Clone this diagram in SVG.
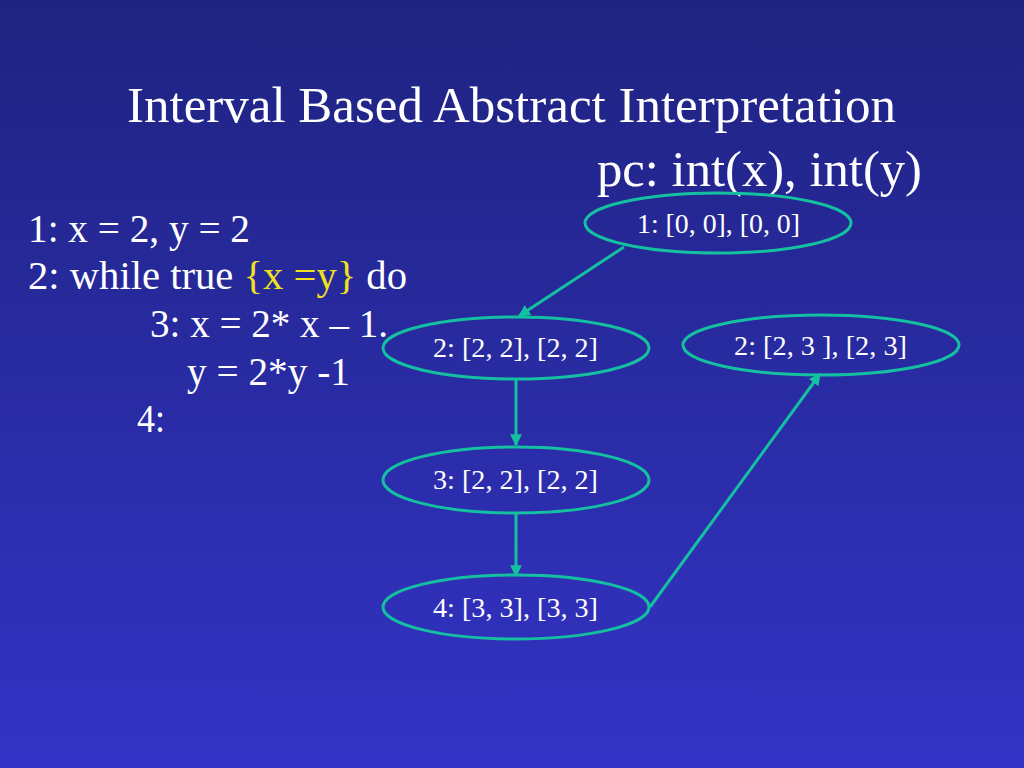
<svg xmlns="http://www.w3.org/2000/svg" width="1024" height="768" viewBox="0 0 1024 768">
<defs>
<linearGradient id="bg" x1="0" y1="0" x2="0" y2="1">
<stop offset="0" stop-color="#1f2380"/>
<stop offset="1" stop-color="#3333c6"/>
</linearGradient>
<marker id="arr" viewBox="0 0 10 10" refX="9" refY="5" markerWidth="4" markerHeight="4" orient="auto" markerUnits="strokeWidth">
<path d="M0,0 L10,5 L0,10 z" fill="#14c0a0"/>
</marker>
<style>
.t{font-family:"Liberation Serif","Times New Roman",serif;fill:#ffffff}
.title{font-size:51px}
.code{font-size:40px}
.lbl{font-size:28px}
.node ellipse{fill:none;stroke:#14c0a0;stroke-width:3}
.edge{stroke:#14c0a0;stroke-width:3;fill:none;marker-end:url(#arr)}
</style>
</defs>
<rect width="1024" height="768" fill="url(#bg)"/>
<text class="t title" x="127" y="122" textLength="769" lengthAdjust="spacingAndGlyphs">Interval Based Abstract Interpretation</text>
<text class="t title" x="597" y="186" textLength="325" lengthAdjust="spacingAndGlyphs">pc: int(x), int(y)</text>
<g id="code">
<text class="t code" x="28" y="242" textLength="222" lengthAdjust="spacingAndGlyphs">1: x = 2, y = 2</text>
<text class="t code" x="28" y="289" textLength="379" lengthAdjust="spacingAndGlyphs">2: while true  <tspan fill="#f0e020">{x =y}</tspan> do</text>
<text class="t code" x="150" y="337" textLength="238" lengthAdjust="spacingAndGlyphs">3: x = 2* x – 1.</text>
<text class="t code" x="187" y="385" textLength="163" lengthAdjust="spacingAndGlyphs">y = 2*y -1</text>
<text class="t code" x="137" y="432" textLength="28" lengthAdjust="spacingAndGlyphs">4:</text>
</g>
<g id="connectors">
<line class="edge" x1="624" y1="247" x2="519" y2="316"/>
<line class="edge" x1="516" y1="380" x2="516" y2="445"/>
<line class="edge" x1="516" y1="513" x2="516" y2="576"/>
<line class="edge" x1="650" y1="607" x2="820" y2="374"/>
</g>
<g id="n1" class="node">
<ellipse cx="718" cy="223" rx="133" ry="30"/>
<text class="t lbl" x="637" y="233" textLength="163" lengthAdjust="spacingAndGlyphs">1: [0, 0], [0, 0]</text>
</g>
<g id="n2a" class="node">
<ellipse cx="516" cy="348" rx="133" ry="31"/>
<text class="t lbl" x="433" y="357" textLength="165" lengthAdjust="spacingAndGlyphs">2: [2, 2], [2, 2]</text>
</g>
<g id="n2b" class="node">
<ellipse cx="821" cy="345" rx="138" ry="30"/>
<text class="t lbl" x="734" y="355" textLength="173" lengthAdjust="spacingAndGlyphs">2: [2, 3 ], [2, 3]</text>
</g>
<g id="n3" class="node">
<ellipse cx="516" cy="480" rx="133" ry="33"/>
<text class="t lbl" x="433" y="489" textLength="165" lengthAdjust="spacingAndGlyphs">3: [2, 2], [2, 2]</text>
</g>
<g id="n4" class="node">
<ellipse cx="516" cy="607" rx="133" ry="32"/>
<text class="t lbl" x="433" y="617" textLength="165" lengthAdjust="spacingAndGlyphs">4: [3, 3], [3, 3]</text>
</g>
</svg>
